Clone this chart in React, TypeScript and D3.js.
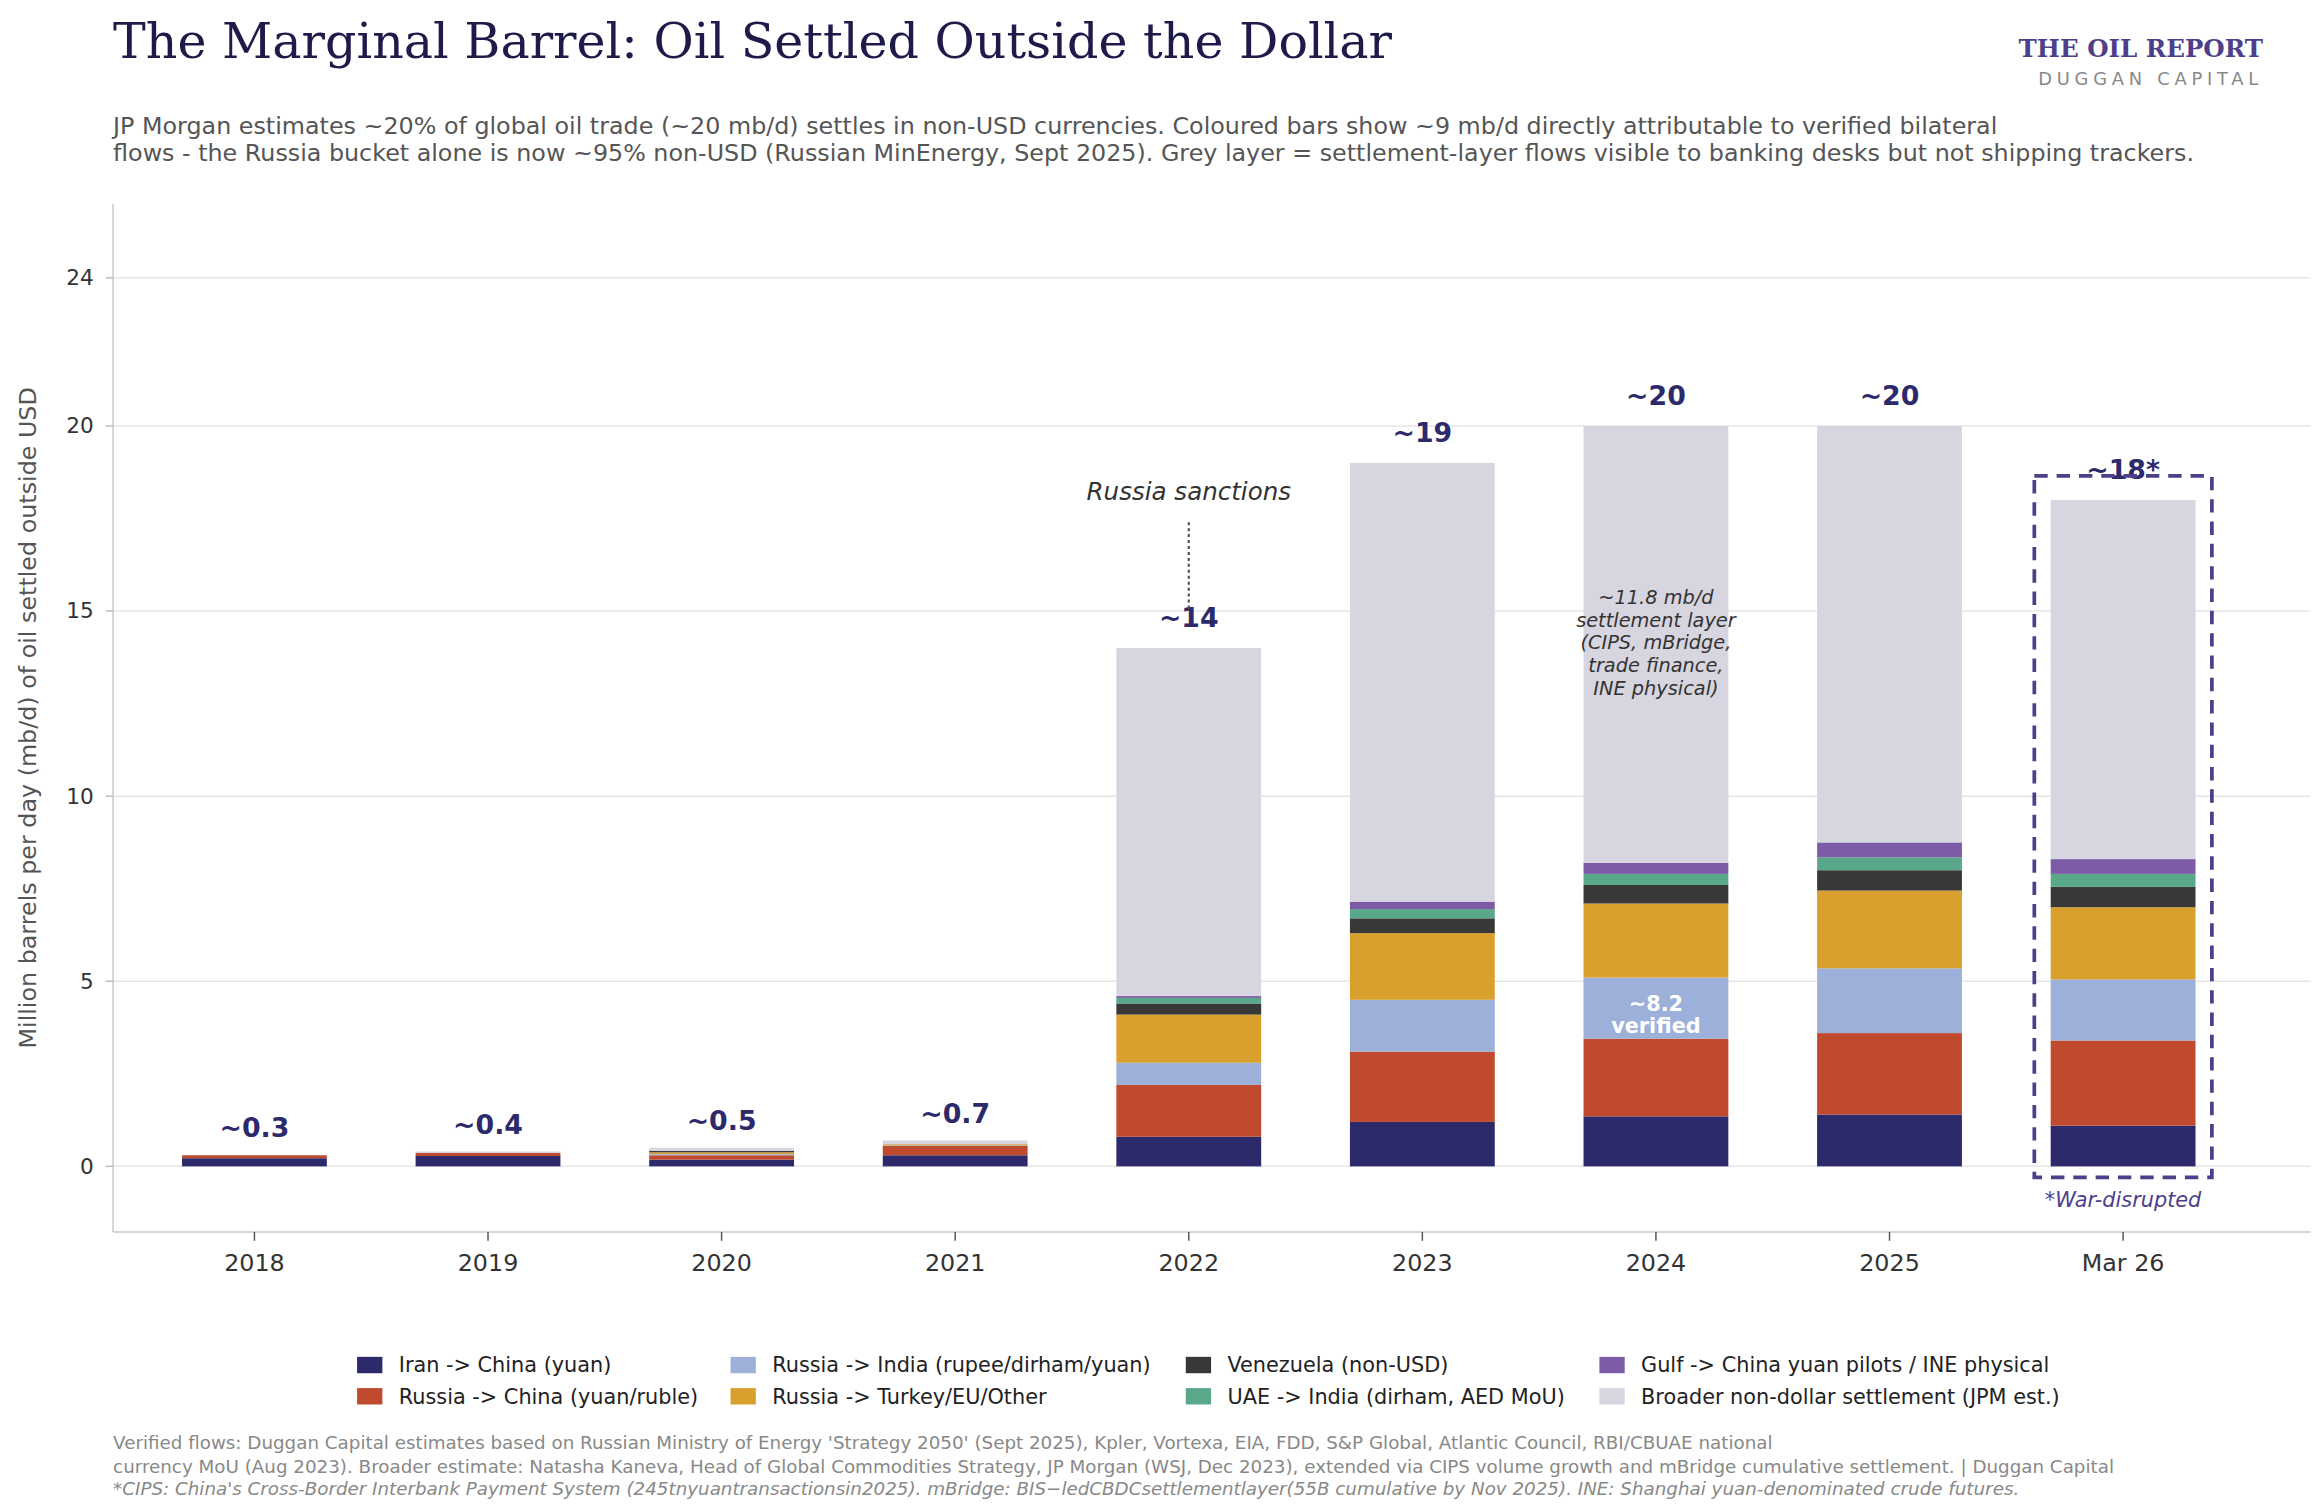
import * as d3 from "d3"

const YEARS = ["2018", "2019", "2020", "2021", "2022", "2023", "2024", "2025", "Mar 26"]
const SERIES = [
  "Iran -> China (yuan)",
  "Russia -> China (yuan/ruble)",
  "Russia -> India (rupee/dirham/yuan)",
  "Russia -> Turkey/EU/Other",
  "Venezuela (non-USD)",
  "UAE -> India (dirham, AED MoU)",
  "Gulf -> China yuan pilots / INE physical",
  "Broader non-dollar settlement (JPM est.)",
]
const COLORS = ["#2d2a6b", "#c04a2e", "#9db0d9", "#d9a02e", "#383838", "#5aa88a", "#7e5ba6", "#d7d5df"]

const IRAN    = [0.22, 0.28, 0.18, 0.3, 0.8, 1.2, 1.35, 1.4, 1.1]
const RU_CN   = [0.08, 0.08, 0.12, 0.25, 1.4, 1.9, 2.1, 2.2, 2.3]
const RU_IN   = [0, 0, 0.03, 0.02, 0.6, 1.4, 1.65, 1.75, 1.65]
const RU_TR   = [0, 0, 0.05, 0.03, 1.3, 1.8, 2.0, 2.1, 1.95]
const VEN     = [0, 0, 0.04, 0, 0.3, 0.4, 0.5, 0.55, 0.55]
const UAE     = [0, 0, 0, 0, 0.15, 0.25, 0.3, 0.35, 0.35]
const GULF    = [0, 0, 0, 0, 0.05, 0.2, 0.3, 0.4, 0.4]
const BROADER = [0, 0.04, 0.08, 0.1, 9.4, 11.85, 11.8, 11.25, 9.7]
const VALUES = [IRAN, RU_CN, RU_IN, RU_TR, VEN, UAE, GULF, BROADER]
const TOTAL_LABELS = ["~0.3", "~0.4", "~0.5", "~0.7", "~14", "~19", "~20", "~20", "~18*"]
const Y_TICKS = [0, 5, 10, 15, 20, 24]

const W = 1560
const H = 1015.6
const PL = 76, PR = 1553, PT = 137, PB = 828

export default function App() {
  const x = d3.scaleBand().domain(YEARS).range([92.5, 1505.5]).paddingInner(0.38).paddingOuter(0.19)
  const y = d3.scaleLinear().domain([-1.77, 26]).range([PB, PT])
  const rows = YEARS.map((yr, i) => {
    const r: any = { year: yr }
    SERIES.forEach((s, j) => (r[s] = VALUES[j][i]))
    return r
  })
  const stacked = d3.stack<any>().keys(SERIES)(rows)
  const totals = YEARS.map((_, i) => d3.sum(VALUES, (v) => v[i]))
  const cx = (yr: string) => x(yr)! + x.bandwidth() / 2
  const font = "DejaVu Sans, sans-serif"
  const legendX = [240, 491, 797, 1075]

  return (
    <svg width={2321} height={1511} viewBox={`0 0 ${W} ${H}`}
      style={{ position: "absolute", left: 0, top: 0, background: "#fff" }} fontFamily={font}>
      <text x={76} y={39} fontFamily="DejaVu Serif, serif" fontSize={33} fill="#1e1a4a">
        The Marginal Barrel: Oil Settled Outside the Dollar
      </text>
      <text x={1521} y={38} textAnchor="end" fontFamily="DejaVu Serif, serif" fontWeight="bold" fontSize={16.5} fill="#4d3f8a">THE OIL REPORT</text>
      <text x={1521} y={57} textAnchor="end" fontSize={12} letterSpacing={3.2} fill="#888">DUGGAN CAPITAL</text>
      <text x={76} y={90} fontSize={16} fill="#555">
        JP Morgan estimates ~20% of global oil trade (~20 mb/d) settles in non-USD currencies. Coloured bars show ~9 mb/d directly attributable to verified bilateral
      </text>
      <text x={76} y={108} fontSize={16} fill="#555">
        flows - the Russia bucket alone is now ~95% non-USD (Russian MinEnergy, Sept 2025). Grey layer = settlement-layer flows visible to banking desks but not shipping trackers.
      </text>

      {Y_TICKS.map((t) => (
        <g key={t}>
          <line x1={PL} x2={PR} y1={y(t)} y2={y(t)} stroke="#e6e6e6" />
          <line x1={PL - 5} x2={PL} y1={y(t)} y2={y(t)} stroke="#bbb" />
          <text x={PL - 13} y={y(t) + 5} textAnchor="end" fontSize={14.5} fill="#333">{t}</text>
        </g>
      ))}
      <line x1={PL} x2={PL} y1={PT} y2={PB} stroke="#c8c8c8" />
      <line x1={PL} x2={PR} y1={PB} y2={PB} stroke="#c8c8c8" />
      <text transform={`translate(24,${(PT + PB) / 2}) rotate(-90)`} textAnchor="middle" fontSize={16} fill="#555">
        Million barrels per day (mb/d) of oil settled outside USD
      </text>

      {stacked.map((layer, j) => (
        <g key={j} fill={COLORS[j]}>
          {layer.map((d, i) => (
            <rect key={i} x={x(YEARS[i])} width={x.bandwidth()} y={y(d[1])} height={Math.max(0, y(d[0]) - y(d[1]))} />
          ))}
        </g>
      ))}

      {YEARS.map((yr, i) => (
        <g key={yr}>
          <line x1={cx(yr)} x2={cx(yr)} y1={PB} y2={PB + 6} stroke="#555" />
          <text x={cx(yr)} y={PB + 26} textAnchor="middle" fontSize={16} fill="#333">{yr}</text>
          <text x={cx(yr)} y={y(totals[i]) - (i < 4 ? 12 : 14)} textAnchor="middle" fontSize={18} fontWeight="bold" fill="#2d2a6b">
            {TOTAL_LABELS[i]}
          </text>
        </g>
      ))}

      <text x={cx("2022")} y={y(18)} textAnchor="middle" fontSize={16.5} fontStyle="italic" fill="#333">Russia sanctions</text>
      <line x1={cx("2022")} x2={cx("2022")} y1={y(17.4)} y2={y(15.0)} stroke="#555" strokeWidth={1.5} strokeDasharray="2,2" />

      {["~11.8 mb/d", "settlement layer", "(CIPS, mBridge,", "trade finance,", "INE physical)"].map((l, k) => (
        <text key={k} x={cx("2024")} y={406 + k * 15.2} textAnchor="middle" fontSize={13} fontStyle="italic" fill="#333">{l}</text>
      ))}
      <text x={cx("2024")} y={y(4.2)} textAnchor="middle" fontSize={14} fontWeight="bold" fill="#fff">~8.2</text>
      <text x={cx("2024")} y={y(3.6)} textAnchor="middle" fontSize={14} fontWeight="bold" fill="#fff">verified</text>

      <rect x={x("Mar 26")! - 11} width={x.bandwidth() + 22} y={y(18.65)} height={y(-0.3) - y(18.65)}
        fill="none" stroke="#4d3f8a" strokeWidth={2.5} strokeDasharray="9,6" />
      <text x={cx("Mar 26")} y={y(-1.1)} textAnchor="middle" fontSize={14} fontStyle="italic" fill="#4d3f8a">*War-disrupted</text>

      {SERIES.map((s, j) => {
        const col = Math.floor(j / 2), row = j % 2
        return (
          <g key={s} transform={`translate(${legendX[col]},${912 + row * 21})`}>
            <rect width={17} height={11} fill={COLORS[j]} />
            <text x={28} y={10.5} fontSize={14} fill="#222">{s}</text>
          </g>
        )
      })}

      <g fontSize={12.3} fill="#888">
        <text x={76} y={974}>Verified flows: Duggan Capital estimates based on Russian Ministry of Energy 'Strategy 2050' (Sept 2025), Kpler, Vortexa, EIA, FDD, S&amp;P Global, Atlantic Council, RBI/CBUAE national</text>
        <text x={76} y={990}>currency MoU (Aug 2023). Broader estimate: Natasha Kaneva, Head of Global Commodities Strategy, JP Morgan (WSJ, Dec 2023), extended via CIPS volume growth and mBridge cumulative settlement. | Duggan Capital</text>
        <text x={76} y={1005} fontStyle="italic">*CIPS: China's Cross-Border Interbank Payment System (245tnyuantransactionsin2025). mBridge: BIS−ledCBDCsettlementlayer(55B cumulative by Nov 2025). INE: Shanghai yuan-denominated crude futures.</text>
      </g>
    </svg>
  )
}
